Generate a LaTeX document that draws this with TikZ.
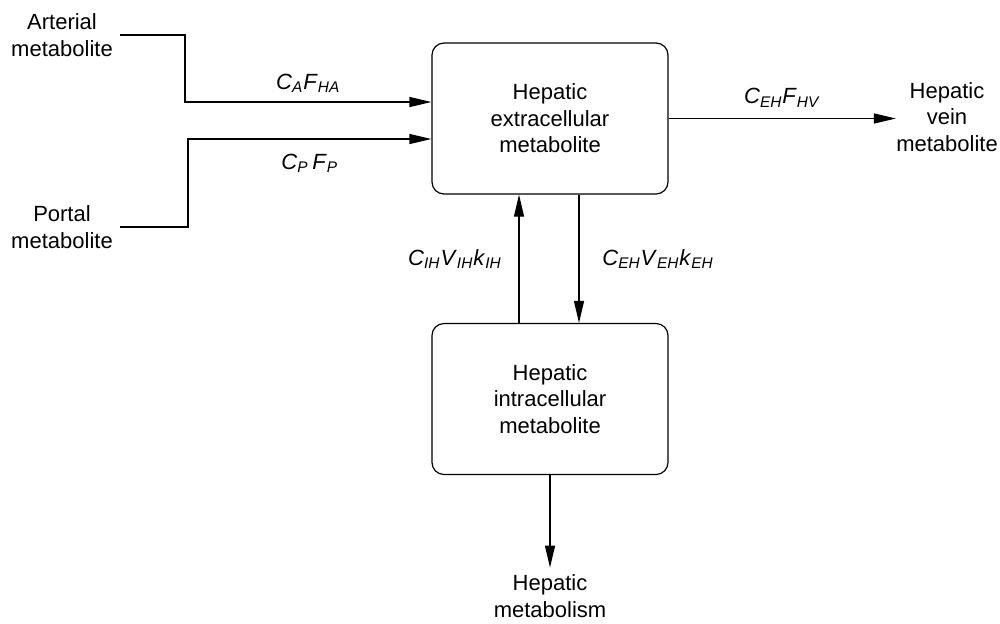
\documentclass[tikz,border=0pt]{standalone}
\usepackage{fontspec}
\setmainfont{Liberation Sans}
\usetikzlibrary{arrows.meta}
\newcommand{\rate}[2]{\textit{#1}\textsubscript{\textit{#2}}}

\begin{document}
\begin{tikzpicture}[x=0.5pt, y=-0.5pt, font=\fontsize{11}{13.25}\selectfont,
        pool/.style={draw, rounded corners=6pt, align=center, minimum width=118pt, minimum height=75.5pt, line width=0.6pt},
        flow/.style={-{Triangle[length=11pt, width=5pt]}, line width=0.6pt}]
        \useasboundingbox (0, 0) rectangle (1000, 623);

        \node[pool] at (550, 118.5) (ext)   {Hepatic\\extracellular\\metabolite};
        \node[pool] at (550, 399)   (intra) {Hepatic\\intracellular\\metabolite};

        \node[align=center] at (62, 35)   (art)    {Arterial\\metabolite};
        \node[align=center] at (62, 227)  (portal) {Portal\\metabolite};
        \node[align=center, inner sep=0pt] at (947, 117)  (vein)   {Hepatic\\vein\\metabolite};
        \node[align=center] at (550, 596) (metab)  {Hepatic\\metabolism};

        % corners of the inflow lines
        \coordinate (a1) at (185, 102);
        \coordinate (p1) at (188, 139);

        \draw[flow] (art.east) -| (a1) -- (a1 -| ext.west)
                node[midway, above=1pt] {\rate{C}{A}\rate{F}{HA}};
        \draw[flow] (portal.east) -| (p1) -- (p1 -| ext.west)
                node[midway, below=4pt] {\rate{C}{P}\,\rate{F}{P}};

        \draw[flow] (ext.east) -- (ext.east -| vein.west)
                node[midway, above=2pt] {\rate{C}{EH}\rate{F}{HV}};

        % exchange between the two pools
        \draw[flow] ([xshift=-15.5pt]intra.north) -- ([xshift=-15.5pt]ext.south)
                node[midway, left=5pt] {\rate{C}{IH}\rate{V}{IH}\rate{k}{IH}};
        \draw[flow] ([xshift=14.5pt]ext.south) -- ([xshift=14.5pt]intra.north)
                node[midway, right=8pt] {\rate{C}{EH}\rate{V}{EH}\rate{k}{EH}};

        \draw[flow] (intra.south) -- (metab.north);

    \end{tikzpicture}
\end{document}
